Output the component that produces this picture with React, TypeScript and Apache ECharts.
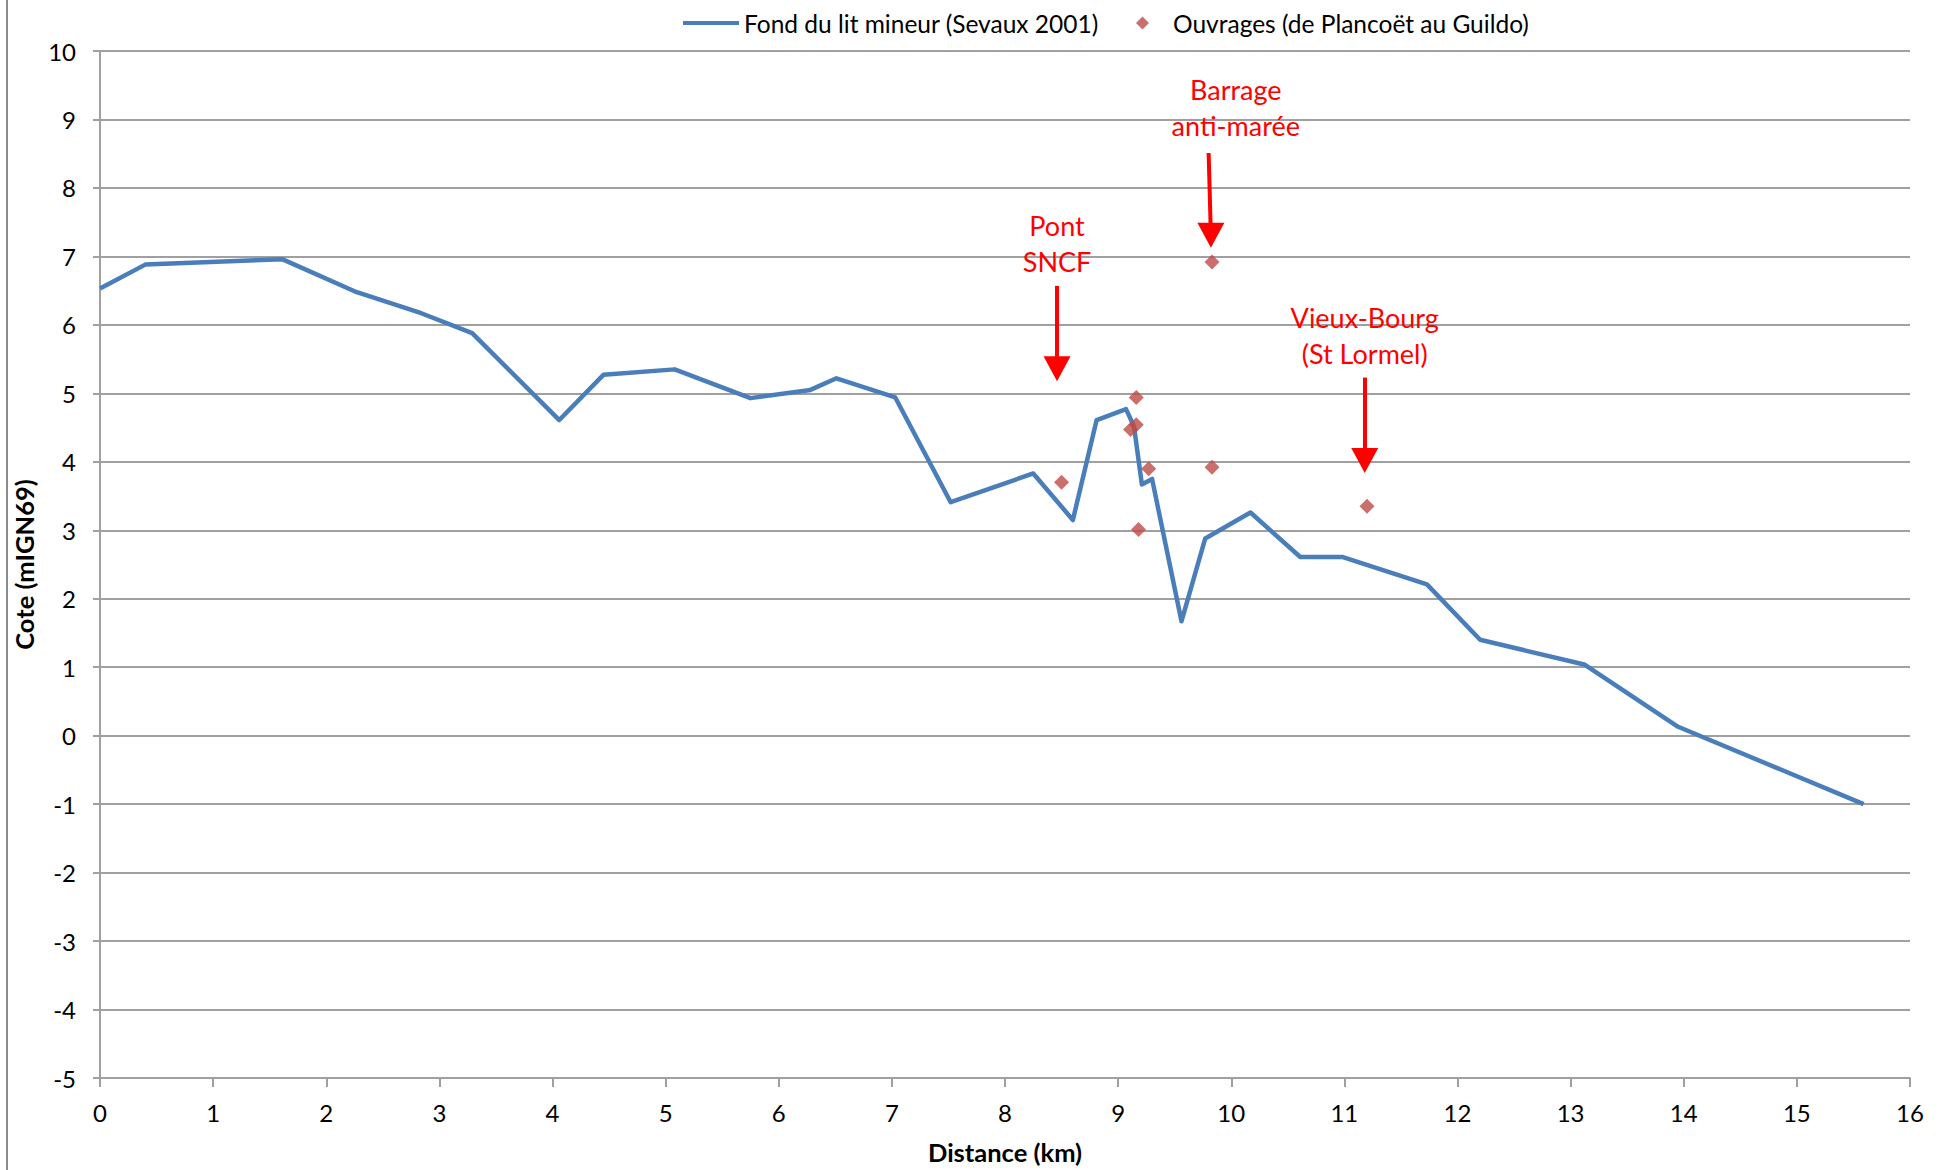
import React, { useEffect, useRef } from "react";
import * as echarts from "echarts";

// Bed profile (Fond du lit mineur)
const lineX = [0, 0.4, 1.61, 2.25, 2.84, 3.29, 4.06, 4.45, 5.08, 5.75, 6.28, 6.51, 7.03, 7.52, 8.25, 8.6, 8.81, 9.07, 9.14, 9.21, 9.3, 9.56, 9.77, 10.17, 10.61, 10.98, 11.73, 12.2, 13.12, 13.95, 15.59];
const lineY = [6.53, 6.88, 6.96, 6.49, 6.17, 5.88, 4.61, 5.27, 5.35, 4.93, 5.05, 5.22, 4.94, 3.41, 3.83, 3.15, 4.61, 4.77, 4.52, 3.67, 3.75, 1.67, 2.88, 3.26, 2.61, 2.61, 2.21, 1.4, 1.04, 0.13, -1.0];

// Ouvrages (structures)
const ouvX = [8.5, 9.11, 9.16, 9.16, 9.18, 9.27, 9.83, 9.83, 11.2];
const ouvY = [3.7, 4.47, 4.54, 4.94, 3.01, 3.9, 3.92, 6.92, 3.35];

// Annotations
const annoText = ["Pont\nSNCF", "Barrage\nanti-marée", "Vieux-Bourg\n(St Lormel)"];
const annoTextX = [8.46, 10.04, 11.18];
const annoTextY = [7.19, 9.17, 5.85];
const arrowFromX = [8.46, 9.8, 11.18];
const arrowToX = [8.46, 9.82, 11.18];
const arrowFromY = [6.57, 8.51, 5.23];
const arrowTipY = [5.18, 7.13, 3.84];

const yTicks = [-5, -4, -3, -2, -1, 0, 1, 2, 3, 4, 5, 6, 7, 8, 9, 10];
const xTicks = [0, 1, 2, 3, 4, 5, 6, 7, 8, 9, 10, 11, 12, 13, 14, 15, 16];

const LINE_NAME = "Fond du lit mineur (Sevaux 2001)";
const OUV_NAME = "Ouvrages (de Plancoët au Guildo)";
const FONT = "Lato";

export default function App() {
  const ref = useRef<HTMLDivElement>(null);
  useEffect(() => {
    if (!ref.current) return;
    const chart = echarts.init(ref.current, null, { renderer: "svg" });
    const headHalf = 0.18;
    chart.setOption({
      animation: false,
      backgroundColor: "#ffffff",
      textStyle: { fontFamily: FONT },
      grid: { left: 100, right: 35, top: 51, bottom: 89, containLabel: false },
      legend: [
        {
          data: [{ name: LINE_NAME, icon: "rect" }],
          left: 683,
          top: 8,
          padding: 0,
          itemWidth: 56,
          itemHeight: 4,
          textStyle: { fontFamily: FONT, fontSize: 24.5, color: "#000", lineHeight: 30 },
          selectedMode: false,
        },
        {
          data: [{ name: OUV_NAME, icon: "diamond" }],
          left: 1136,
          top: 8,
          padding: 0,
          itemWidth: 13,
          itemHeight: 13,
          textStyle: { fontFamily: FONT, fontSize: 24.5, color: "#000", lineHeight: 30, padding: [0, 0, 0, 19] },
          selectedMode: false,
        },
      ],
      xAxis: {
        type: "value",
        min: xTicks[0],
        max: xTicks[xTicks.length - 1],
        interval: 1,
        name: "Distance (km)",
        nameLocation: "middle",
        nameGap: 61,
        nameTextStyle: { fontFamily: FONT, fontSize: 25.5, fontWeight: "bold", color: "#000" },
        axisLine: { show: true, onZero: false, lineStyle: { color: "#a0a0a0", width: 2 } },
        axisTick: { show: true, length: 9, lineStyle: { color: "#a0a0a0", width: 2 } },
        axisLabel: { margin: 22, fontSize: 24, color: "#000", fontFamily: FONT },
        splitLine: { show: false },
      },
      yAxis: {
        type: "value",
        min: yTicks[0],
        max: yTicks[yTicks.length - 1],
        interval: 1,
        name: "Cote (mIGN69)",
        nameLocation: "middle",
        nameGap: 59,
        nameTextStyle: { fontFamily: FONT, fontSize: 25.5, fontWeight: "bold", color: "#000" },
        axisLine: { show: true, onZero: false, lineStyle: { color: "#a0a0a0", width: 2 } },
        axisTick: { show: true, length: 7, lineStyle: { color: "#a0a0a0", width: 2 } },
        axisLabel: { margin: 24, fontSize: 24, color: "#000", fontFamily: FONT },
        splitLine: { show: true, lineStyle: { color: "#a0a0a0", width: 2 } },
      },
      series: [
        {
          name: LINE_NAME,
          type: "line",
          data: lineX.map((x, i) => [x, lineY[i]]),
          showSymbol: false,
          symbol: "none",
          lineStyle: { color: "#4a7ebb", width: 4.5, join: "round" },
          itemStyle: { color: "#4a7ebb" },
          silent: true,
          z: 3,
          markPoint: {
            silent: true,
            symbol: "triangle",
            symbolSize: [27, 25],
            symbolRotate: 180,
            itemStyle: { color: "#ff0000" },
            label: { show: false },
            data: arrowToX.map((x, i) => ({ coord: [x, arrowTipY[i] + headHalf] })),
          },
        },
        {
          name: OUV_NAME,
          type: "scatter",
          data: ouvX.map((x, i) => [x, ouvY[i]]),
          symbol: "diamond",
          symbolSize: 15,
          itemStyle: { color: "#be4b48" },
          silent: true,
          z: 4,
          markLine: {
            silent: true,
            symbol: ["none", "none"],
            label: { show: false },
            lineStyle: { color: "#ff0000", width: 4, type: "solid" },
            emphasis: { disabled: true },
            data: arrowFromX.map((x, i) => [
              { coord: [x, arrowFromY[i]] },
              { coord: [arrowToX[i], arrowTipY[i] + headHalf] },
            ]),
          },
          markPoint: {
            silent: true,
            symbol: "circle",
            symbolSize: 1,
            itemStyle: { color: "rgba(0,0,0,0)" },
            label: {
              show: true,
              position: "inside",
              color: "#ff0000",
              fontFamily: FONT,
              fontSize: 27,
              lineHeight: 36,
              align: "center",
              verticalAlign: "middle",
            },
            data: annoText.map((t, i) => ({
              coord: [annoTextX[i], annoTextY[i]],
              label: { formatter: t },
            })),
          },
        },
      ],
      graphic: [
        {
          type: "line",
          shape: { x1: 7, y1: 0, x2: 7, y2: 1170 },
          style: { stroke: "#8c8c8c", lineWidth: 2 },
          silent: true,
        },
      ],
    });
    return () => chart.dispose();
  }, []);
  return (
    <div
      ref={ref}
      style={{ position: "fixed", left: 0, top: 0, width: 1945, height: 1170, background: "#fff" }}
    />
  );
}
